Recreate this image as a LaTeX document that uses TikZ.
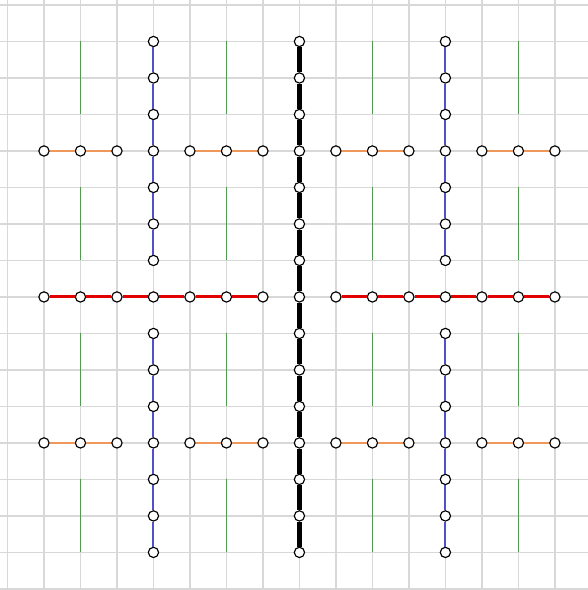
\documentclass[tikz,border=0pt]{standalone}

\definecolor{gridgray}{RGB}{216,216,216}
\definecolor{bargreen}{RGB}{80,155,80}
\definecolor{armorange}{RGB}{238,152,92}
\definecolor{armblue}{RGB}{80,80,200}
\definecolor{armred}{RGB}{225,0,0}

\tikzset{
  vtx/.style={circle, draw=black, fill=white, line width=0.9pt,
              inner sep=0pt, minimum size=8pt},
  gridline/.style={line width=1.2pt, gridgray},
  greenbar/.style={line width=1pt, bargreen},
  orangearm/.style={line width=1.8pt, armorange},
  bluearm/.style={line width=1.5pt, draw=armblue},
  redarm/.style={line width=2.4pt, armred},
  spine/.style={line width=3.3pt, black}
}

\begin{document}
\begin{tikzpicture}[x=1cm,y=1cm]
  \useasboundingbox (-0.205,-0.03) rectangle (15.9,16.137);

  %===== background grid =====%
  \draw[gridline] (-0.205,-0.03) grid (15.9,16.137);

  %===== green bars (no vertices) =====%
  \foreach \x in {2,6,10,14}
    \foreach \y in {1,5,9,13}
      \draw[greenbar] (\x,\y) -- (\x,\y+2);

  %===== black spine =====%
  \foreach \y in {1,...,15}
    \node[vtx] (k\y) at (8,\y) {};
  \foreach \y in {1,...,14} {
    \pgfmathtruncatemacro{\n}{\y+1}
    \draw[spine] (k\y) -- (k\n);
  }

  %===== red arms =====%
  \foreach \x in {1,...,7}
    \node[vtx] (r\x) at (\x,8) {};
  \foreach \x in {9,...,15}
    \node[vtx] (r\x) at (\x,8) {};
  \foreach \x in {1,...,6,9,10,11,12,13,14} {
    \pgfmathtruncatemacro{\n}{\x+1}
    \draw[redarm] (r\x) -- (r\n);
  }

  %===== blue arms =====%
  \foreach \y in {1,...,7,9,10,11,12,13,14,15} {
    \node[vtx] (bl\y) at (4,\y) {};
    \node[vtx] (br\y) at (12,\y) {};
  }
  \foreach \y in {1,...,6,9,10,11,12,13,14} {
    \pgfmathtruncatemacro{\n}{\y+1}
    \draw[bluearm] (bl\y) -- (bl\n);
    \draw[bluearm] (br\y) -- (br\n);
  }

  %===== orange arms =====%
  \foreach \r in {4,12}
    \foreach \s in {1,5,9,13} {
      \pgfmathtruncatemacro{\m}{\s+1}
      \pgfmathtruncatemacro{\e}{\s+2}
      \node[vtx] (o\r-\s) at (\s,\r) {};
      \node[vtx] (o\r-\m) at (\m,\r) {};
      \node[vtx] (o\r-\e) at (\e,\r) {};
      \draw[orangearm] (o\r-\s) -- (o\r-\m) -- (o\r-\e);
    }
\end{tikzpicture}
\end{document}
